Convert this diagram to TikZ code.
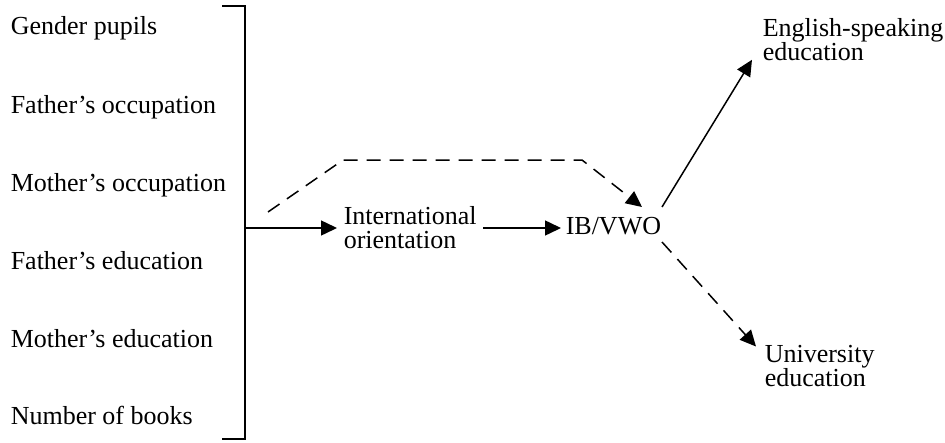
\documentclass[tikz,border=0pt]{standalone}
\usepackage{fontspec}
\setmainfont{Liberation Serif}
\usetikzlibrary{arrows.meta}
\tikzset{
  lbl/.style={anchor=west,inner sep=0pt,text height=18pt,text depth=6pt},
  twoline/.style={anchor=west,inner xsep=6pt,inner ysep=0pt,align=left},
  tip/.style={-{Triangle[length=16pt,width=15pt]}},
  dsh/.style={dash pattern=on 14pt off 9pt}
}
\begin{document}
\begin{tikzpicture}[x=1pt,y=-1pt,line width=1.5pt,font=\fontsize{26}{24}\selectfont]
\useasboundingbox (0,0) rectangle (945,442);
% background variables
\foreach \y/\name/\txt in {28/gp/Gender pupils,107/fo/Father's occupation,185/mo/Mother's occupation,263/fe/Father's education,341/me/Mother's education,418/nb/Number of books}
{
    \node[lbl] (\name) at (10,\y) {\txt};
}
% bracket
\coordinate (bt) at (245,6);
\coordinate (bb) at (245,439);
\coordinate (brk) at (245,228);
\draw (222,6) -- (bt) -- (bb) -- (222,439);
% nodes
\node[twoline] (io) at (337,228) {International\\orientation};
\node[lbl,inner xsep=4pt] (ib) at (561,228) {IB/VWO};
\node[twoline,anchor=north west] (ese) at (756,18) {English-speaking\\education};
\node[twoline] (ue) at (758,366) {University\\education};
% dashed detour
\coordinate (ds) at (268,212);
\coordinate (dk1) at (343,160);
\coordinate (dk2) at (582,160);
\coordinate (ibin) at (642,207);
\coordinate (ibup) at (662,207);
\coordinate (ibdn) at (662,242);
% connectors
\draw[tip] (brk) -- (io.west);
\draw[tip] (io.east) -- (ib.west);
\draw[dsh,tip] (ds) -- (dk1) -- (dk2) -- (ibin);
\draw[tip] (ibup) -- ([shift={(-4pt,2pt)}]ese.south west);
\draw[dsh,tip] (ibdn) -- ([shift={(-2pt,-2pt)}]ue.north west);
\end{tikzpicture}
\end{document}
